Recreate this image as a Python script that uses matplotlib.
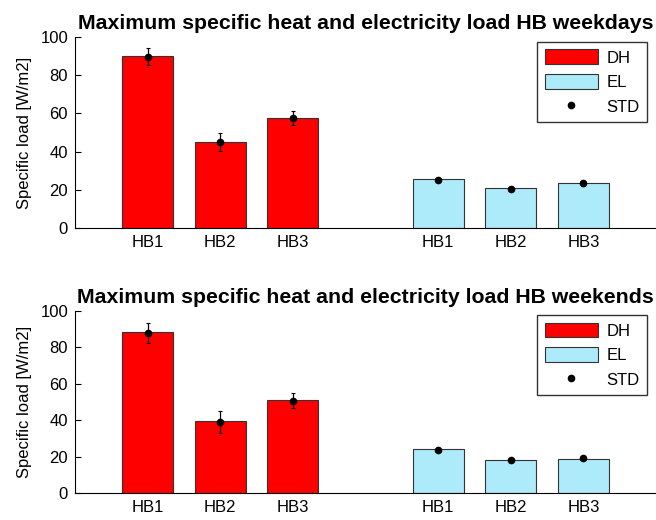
import matplotlib.pyplot as plt
from matplotlib.lines import Line2D

plt.rcParams["font.family"] = ["Liberation Sans", "DejaVu Sans"]

# bar positions: DH group then EL group, gap of one slot between
dh_pos = [1, 2, 3]
el_pos = [5, 6, 7]
tick_labels = ["HB1", "HB2", "HB3", "HB1", "HB2", "HB3"]

# weekdays
wd_dh = [90.0, 45.2, 57.8]
wd_dh_mean = [89.7, 44.9, 57.5]
wd_dh_std = [4.6, 4.6, 3.8]
wd_el = [25.7, 20.8, 23.7]
wd_el_mean = [25.3, 20.6, 23.3]
wd_el_std = [0.8, 0.6, 1.5]

# weekends
we_dh = [88.5, 39.4, 51.1]
we_dh_mean = [88.0, 39.0, 50.7]
we_dh_std = [5.5, 5.9, 4.1]
we_el = [24.1, 18.2, 18.9]
we_el_mean = [23.7, 18.0, 19.0]
we_el_std = [0.9, 0.5, 0.6]

titles = [
    "Maximum specific heat and electricity load HB weekdays",
    "Maximum specific heat and electricity load HB weekends",
]

DH_COLOR = "#ff0000"
EL_COLOR = "#adebfa"
EDGE = "#333333"

fig = plt.figure(figsize=(6.56, 5.2), dpi=100)
ax1 = fig.add_axes([75 / 656, 1 - 228 / 520, 581 / 656, 191 / 520])
ax2 = fig.add_axes([75 / 656, 1 - 493 / 520, 581 / 656, 182 / 520])

panels = [
    (ax1, wd_dh, wd_dh_mean, wd_dh_std, wd_el, wd_el_mean, wd_el_std, titles[0], 0.974),
    (ax2, we_dh, we_dh_mean, we_dh_std, we_el, we_el_mean, we_el_std, titles[1], 0.978),
]

for ax, dh, dh_m, dh_s, el, el_m, el_s, title, leg_top in panels:
    b1 = ax.bar(dh_pos, dh, width=0.7, color=DH_COLOR, edgecolor=EDGE,
                linewidth=0.8, zorder=2)
    b2 = ax.bar(el_pos, el, width=0.7, color=EL_COLOR, edgecolor=EDGE,
                linewidth=0.8, zorder=2)
    ax.errorbar(dh_pos + el_pos, dh_m + el_m, yerr=dh_s + el_s, fmt="o",
                color="black", markersize=4.5, elinewidth=0.9, capsize=1.5,
                capthick=0.8, zorder=3)

    ax.set_xlim(0, 8)
    ax.set_ylim(0, 100)
    ax.set_xticks(dh_pos + el_pos)
    ax.set_xticklabels(tick_labels)
    ax.set_yticks([0, 20, 40, 60, 80, 100])
    ax.tick_params(axis="x", length=0, labelsize=12, pad=5)
    ax.tick_params(axis="y", direction="in", length=4, labelsize=12, pad=5)
    ax.spines["top"].set_visible(False)
    ax.spines["right"].set_visible(False)
    ax.set_ylabel("Specific load [W/m2]", fontsize=12, labelpad=6)
    ax.set_title(title, fontsize=15.3, fontweight="bold", pad=6)

    std_handle = Line2D([], [], linestyle="none", marker="o", color="black",
                        markersize=4.5)
    leg = ax.legend([b1, b2, std_handle], ["DH", "EL", "STD"],
                    loc="upper right", bbox_to_anchor=(0.9845, leg_top),
                    borderaxespad=0, fancybox=False, edgecolor="black",
                    fontsize=12, handlelength=3.2, handleheight=1.0,
                    borderpad=0.45, labelspacing=0.5, handletextpad=0.5)
    leg.get_frame().set_linewidth(1.0)

fig.savefig("out.png", dpi=100)
